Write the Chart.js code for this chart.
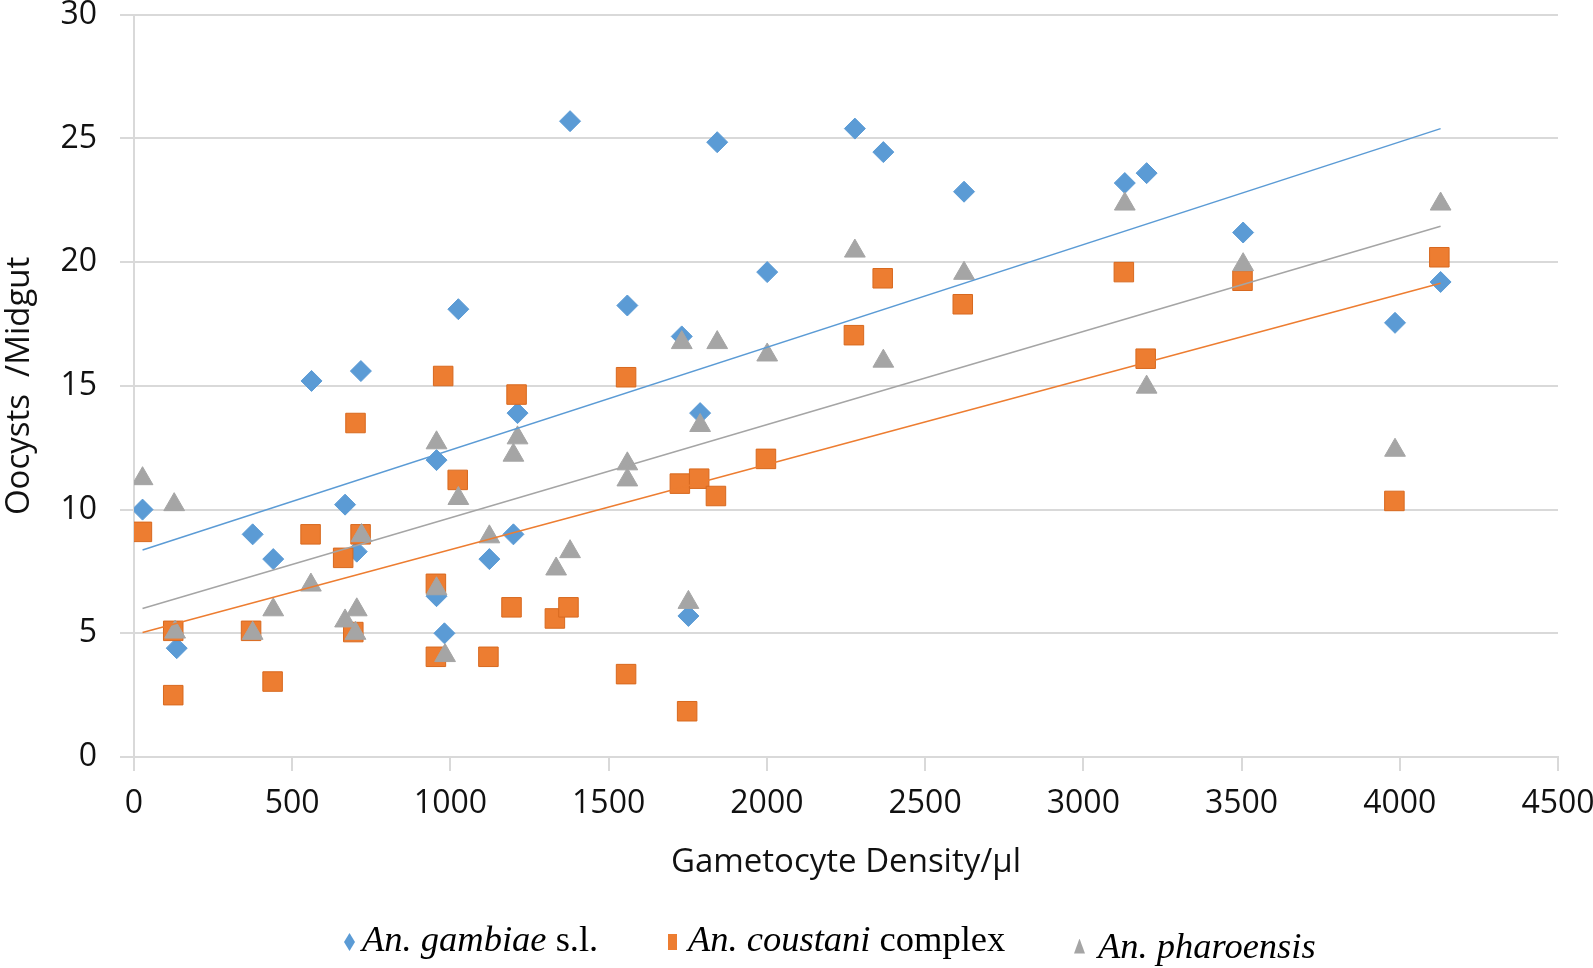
<!DOCTYPE html>
<html>
<head>
<meta charset="utf-8">
<title>Oocysts vs gametocyte density</title>
<script src="https://cdn.jsdelivr.net/npm/chart.js@4.4.0/dist/chart.umd.min.js"></script>
<style>
    html, body { margin: 0; padding: 0; background: #fff; }
    #wrap { position: relative; width: 1593px; height: 968px; }
    #legend { position: absolute; left: 0; top: 0; width: 100%; height: 100%; pointer-events: none;
        font-family: 'Liberation Serif', 'Times New Roman', serif; font-size: 36.5px; color: #000; }
    .item { position: absolute; display: flex; align-items: center; white-space: nowrap; line-height: 40px; }
    .mark { display: inline-block; }
    .diamond { width: 11px; height: 18px; clip-path: polygon(50% 0, 100% 50%, 50% 100%, 0 50%); }
    .square { width: 9px; height: 16px; }
    .triangle { width: 11px; height: 15px; clip-path: polygon(50% 0, 100% 100%, 0 100%); }
</style>
</head>
<body>
<div id="wrap">
    <canvas id="chart-oocysts" width="1593" height="968"></canvas>
    <div id="legend"></div>
</div>
<script>
// An. gambiae s.l.
gambiaeX = [27, 135, 375, 440, 561, 667, 704, 717, 956, 956, 981, 1025, 1123, 1199, 1212, 1378, 1559, 1731, 1752, 1789,
    1843, 2001, 2278, 2368, 2623, 3131, 3200, 3505, 3985, 4129]
gambiaeY = [10.0, 4.4, 9.0, 8.0, 15.2, 10.2, 8.3, 15.6, 12.0, 6.5, 5.0, 18.1, 8.0, 9.0, 13.9, 25.7, 18.25, 17.0, 5.7, 13.9,
    24.85, 19.6, 25.4, 24.45, 22.85, 23.2, 23.6, 21.2, 17.55, 19.2]

// An. coustani complex
coustaniX = [25, 124, 124, 370, 438, 558, 661, 693, 700, 716, 954, 954, 977, 1023, 1120, 1193, 1209, 1330, 1373, 1555,
    1555, 1725, 1748, 1786, 1839, 1997, 2275, 2366, 2619, 3128, 3197, 3503, 3983, 4125]
coustaniY = [9.1, 5.1, 2.5, 5.1, 3.05, 9.0, 8.05, 5.05, 13.5, 9.0, 7.0, 4.05, 15.4, 11.2, 4.05, 6.05, 14.65, 5.6, 6.05, 15.35,
    3.35, 11.05, 1.85, 11.25, 10.55, 12.05, 17.05, 19.35, 18.3, 19.6, 16.1, 19.25, 10.35, 20.2]

// An. pharoensis
pharoensisX = [27, 127, 130, 375, 440, 559, 667, 700, 704, 719, 956, 956, 983, 1025, 1123, 1199, 1212, 1334, 1378, 1559,
    1559, 1731, 1752, 1789, 1843, 2001, 2278, 2368, 2623, 3131, 3200, 3505, 3985, 4129]
pharoensisY = [11.25, 10.2, 5.05, 5.0, 5.95, 6.95, 5.5, 5.0, 5.95, 8.95, 12.7, 6.8, 4.1, 10.45, 8.9, 12.2, 12.9, 7.6, 8.3, 11.85,
    11.2, 16.75, 6.25, 13.4, 16.75, 16.25, 20.45, 16.0, 19.55, 22.35, 14.95, 19.9, 12.4, 22.35]

// linear trendlines, ends
trendX = [27, 4129]
gambiaeTrend = [8.37, 25.4]
coustaniTrend = [5.03, 19.15]
pharoensisTrend = [6.0, 21.45]

speciesNames = ['An. gambiae', 'An. coustani', 'An. pharoensis']
speciesSuffix = [' s.l.', ' complex', '']

blue = '#5b9bd5'
orange = '#ed7d31'
grey = '#a5a5a5'
grid_color = '#d9d9d9'
text_color = '#111'

function points(xs, ys) {
    return xs.map((x, i) => ({ x: x, y: ys[i] }))
}

function trend(label, ys, color) {
    return {
        label: label,
        data: points(trendX, ys),
        showLine: true,
        borderColor: color,
        borderWidth: 1.5,
        pointRadius: 0,
        order: 0
    }
}

const data = {
    datasets: [{
        label: speciesNames[0],
        data: points(gambiaeX, gambiaeY),
        pointStyle: 'rectRot',
        pointRadius: 10.5,
        backgroundColor: blue,
        borderColor: blue,
        borderWidth: 1,
        order: 3
    }, {
        label: speciesNames[1],
        data: points(coustaniX, coustaniY),
        pointStyle: 'rect',
        pointRadius: 13.8,
        backgroundColor: orange,
        borderColor: '#d8691f',
        borderWidth: 1,
        order: 2
    }, {
        label: speciesNames[2],
        data: points(pharoensisX, pharoensisY),
        pointStyle: 'triangle',
        pointRadius: 12,
        backgroundColor: grey,
        borderColor: grey,
        borderWidth: 1,
        order: 1
    },
    trend('gambiae trend', gambiaeTrend, blue),
    trend('coustani trend', coustaniTrend, orange),
    trend('pharoensis trend', pharoensisTrend, grey)]
}

const tick_font = { family: "'Open Sans', sans-serif", size: 32 }
const title_font = { family: "'Open Sans', sans-serif", size: 33 }

function plain(value) {
    return String(value)
}

oocyst_chart = new Chart(
    document.getElementById('chart-oocysts').getContext('2d'), {
        type: 'scatter',
        data: data,
        options: {
            responsive: false,
            animation: false,
            layout: {
                padding: { left: 0, right: 35, top: 13, bottom: 86 }
            },
            plugins: {
                legend: { display: false },
                tooltip: { enabled: false }
            },
            scales: {
                x: {
                    type: 'linear',
                    min: 0,
                    max: 4500,
                    ticks: { stepSize: 500, padding: 14, color: text_color, font: tick_font, maxRotation: 0, callback: plain },
                    grid: { drawOnChartArea: false, tickLength: 14, color: grid_color, lineWidth: 2 },
                    border: { color: grid_color, width: 2 },
                    title: {
                        display: true,
                        text: 'Gametocyte Density/µl',
                        color: text_color,
                        font: title_font,
                        padding: 0
                    },
                    afterFit: function (scale) {
                        scale.height = 125
                        scale.paddingRight = 0
                    }
                },
                y: {
                    min: 0,
                    max: 30,
                    ticks: { stepSize: 5, padding: 23, color: text_color, font: tick_font, callback: plain },
                    grid: { tickLength: 14, color: grid_color, lineWidth: 2 },
                    border: { color: grid_color, width: 2 },
                    title: {
                        display: true,
                        text: 'Oocysts  /Midgut',
                        color: text_color,
                        font: title_font,
                        padding: 0
                    },
                    afterFit: function (scale) {
                        scale.width = 134
                        scale.paddingTop = 0
                    }
                }
            }
        },
    });

// legend with italic species names, built from the datasets
legend_pos = [{ left: 344, top: 919, gap: 7, shape: 'diamond' },
    { left: 668, top: 919, gap: 11, shape: 'square' },
    { left: 1074, top: 926, gap: 13, shape: 'triangle' }]
legend = document.getElementById('legend')
for (let i = 0; i < 3; i++) {
    const ds = oocyst_chart.data.datasets[i]
    const p = legend_pos[i]
    const item = document.createElement('div')
    item.className = 'item'
    item.style.left = p.left + 'px'
    item.style.top = p.top + 'px'
    const mark = document.createElement('span')
    mark.className = 'mark ' + p.shape
    mark.style.background = ds.backgroundColor
    mark.style.marginRight = p.gap + 'px'
    mark.style.marginTop = i == 2 ? '0px' : '6px'
    const txt = document.createElement('span')
    const it = document.createElement('i')
    it.textContent = speciesNames[i]
    txt.appendChild(it)
    txt.appendChild(document.createTextNode(speciesSuffix[i]))
    item.appendChild(mark)
    item.appendChild(txt)
    legend.appendChild(item)
}
</script>
</body>
</html>
